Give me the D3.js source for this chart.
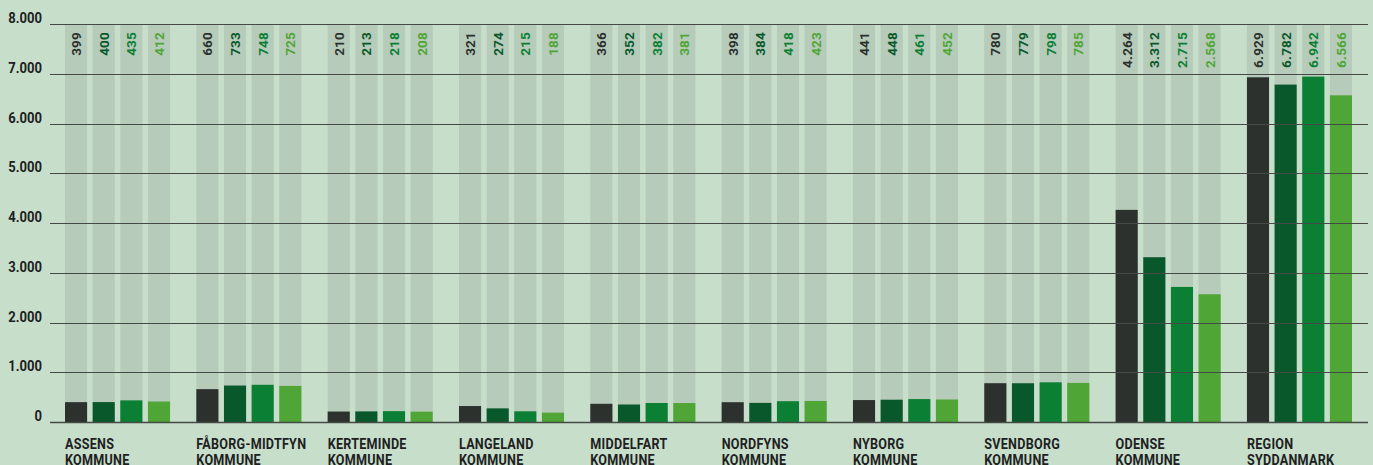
<!DOCTYPE html>
<html>
<head>
<meta charset="utf-8">
<script src="https://cdn.jsdelivr.net/npm/d3@7"></script>
<style>
  html, body { margin: 0; padding: 0; background: #c7dfca; }
  svg { display: block; }
</style>
</head>
<body>
<div id="chartHolder"></div>
<script>
const categories = ['Assens Kommune', 'Fåborg-Midtfyn Kommune', 'Kerteminde Kommune', 'Langeland Kommune',
  'Middelfart Kommune', 'Nordfyns Kommune', 'Nyborg Kommune', 'Svendborg Kommune', 'Odense Kommune', 'Region Syddanmark'];
const labelLines = [['ASSENS', 'KOMMUNE'], ['FÅBORG-MIDTFYN', 'KOMMUNE'], ['KERTEMINDE', 'KOMMUNE'], ['LANGELAND', 'KOMMUNE'],
  ['MIDDELFART', 'KOMMUNE'], ['NORDFYNS', 'KOMMUNE'], ['NYBORG', 'KOMMUNE'], ['SVENDBORG', 'KOMMUNE'], ['ODENSE', 'KOMMUNE'], ['REGION', 'SYDDANMARK']];
const seriesNames = ['s1', 's2', 's3', 's4'];
const series1 = [399, 660, 210, 321, 366, 398, 441, 780, 4264, 6929];
const series2 = [400, 733, 213, 274, 352, 384, 448, 779, 3312, 6782];
const series3 = [435, 748, 218, 215, 382, 418, 461, 798, 2715, 6942];
const series4 = [412, 725, 208, 188, 381, 423, 452, 785, 2568, 6566];
const yTicks = [0, 1000, 2000, 3000, 4000, 5000, 6000, 7000, 8000];

let cfg = {
  width: 1373,
  height: 465,
  bg: '#c7dfca',
  stripeColor: '#b6cbb9',
  gridColor: '#454a46',
  textColor: '#1e211f',
  barColors: ['#2c312e', '#08582b', '#0b8035', '#4fa636'],
  font: 'Roboto, "Liberation Sans", sans-serif'
};

const allSeries = [series1, series2, series3, series4];
const locale = d3.formatLocale({ decimal: ',', thousands: '.', grouping: [3], currency: ['', ' kr.'] });
const fmt = locale.format(',d');

let svg = d3.select('#chartHolder')
  .append('svg')
  .attr('width', cfg.width)
  .attr('height', cfg.height);

svg.append('rect').attr('width', cfg.width).attr('height', cfg.height).attr('fill', cfg.bg);

let y = d3.scaleLinear().domain([0, 8000]).range([422, 24]);
let x0 = d3.scaleBand().domain(categories).range([65, 1352]).paddingInner(0.2).paddingOuter(0);
let x1 = d3.scaleBand().domain(seriesNames).range([0, x0.bandwidth()]).paddingInner(0.2).paddingOuter(0);

let groups = svg.append('g').selectAll('g').data(categories).enter()
  .append('g')
  .attr('transform', d => `translate(${x0(d)},0)`);

// background stripes behind every bar
groups.selectAll('.stripe').data(seriesNames).enter()
  .append('rect')
  .attr('class', 'stripe')
  .attr('x', d => x1(d))
  .attr('y', y(8000))
  .attr('width', x1.bandwidth())
  .attr('height', y(0) - y(8000))
  .attr('fill', cfg.stripeColor);

// gridlines
let grid = svg.append('g');
grid.selectAll('line').data(yTicks).enter()
  .append('line')
  .attr('x1', 50).attr('x2', 1368)
  .attr('y1', d => Math.round(y(d)) + 0.5)
  .attr('y2', d => Math.round(y(d)) + 0.5)
  .attr('stroke', cfg.gridColor)
  .attr('stroke-width', d => d === 0 ? 1.6 : 1.1);

grid.selectAll('text').data(yTicks).enter()
  .append('text')
  .attr('transform', d => `translate(42,${Math.round(y(d)) - 1}) scale(0.9,1)`)
  .attr('text-anchor', 'end')
  .attr('font-family', cfg.font)
  .attr('font-weight', 'bold')
  .attr('font-size', 14.5)
  .attr('fill', cfg.textColor)
  .text(d => fmt(d));

// bars
groups.each(function (cat, ci) {
  let g = d3.select(this);
  let vals = allSeries.map((s, si) => ({ key: seriesNames[si], value: s[ci], color: cfg.barColors[si] }));
  g.selectAll('.bar').data(vals).enter()
    .append('rect')
    .attr('class', 'bar')
    .attr('x', d => x1(d.key))
    .attr('y', d => y(d.value))
    .attr('width', x1.bandwidth())
    .attr('height', d => y(0) - y(d.value))
    .attr('fill', d => d.color);

  g.selectAll('.val').data(vals).enter()
    .append('text')
    .attr('class', 'val')
    .attr('transform', d => `translate(${x1(d.key) + x1.bandwidth() / 2 + 5},32) rotate(-90)`)
    .attr('text-anchor', 'end')
    .attr('font-family', cfg.font)
    .attr('font-weight', 'bold')
    .attr('font-size', 13.5)
    .attr('letter-spacing', 0.2)
    .attr('fill', d => d.color)
    .text(d => fmt(d.value));
});

// category labels
let labels = svg.append('g');
labels.selectAll('text').data(categories).enter()
  .append('text')
  .attr('transform', d => `translate(${x0(d)},449) scale(0.84,1)`)
  .attr('font-family', cfg.font)
  .attr('font-weight', 'bold')
  .attr('font-size', 15)
  .attr('letter-spacing', 0.3)
  .attr('fill', cfg.textColor)
  .each(function (d, i) {
    let t = d3.select(this);
    labelLines[i].forEach((line, li) => {
      t.append('tspan').attr('x', 0).attr('dy', li === 0 ? 0 : 16).text(line);
    });
  });
</script>
</body>
</html>
